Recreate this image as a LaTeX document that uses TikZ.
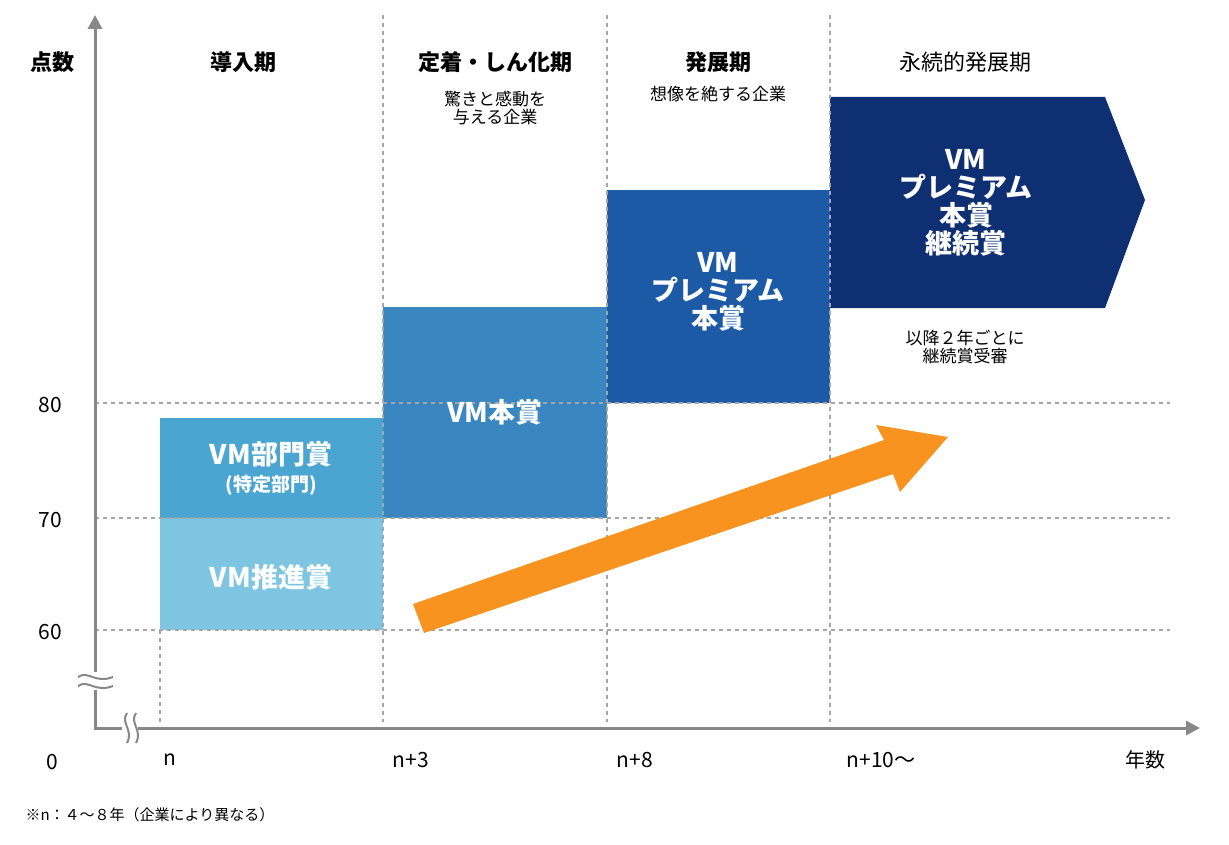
\documentclass[tikz,border=0pt]{standalone}
\usepackage{fontspec}
\setmainfont{Noto Sans CJK JP}
\newfontfamily\jpb{Noto Sans CJK JP Bold}
\usetikzlibrary{arrows.meta}
\definecolor{ax}{HTML}{888888}
\definecolor{c1}{HTML}{7EC5E2}
\definecolor{c2}{HTML}{4AA5D0}
\definecolor{c3}{HTML}{3A86C0}
\definecolor{c4}{HTML}{1C5AA6}
\definecolor{c5}{HTML}{0F2F73}
\definecolor{org}{HTML}{F7931E}
\begin{document}
\begin{tikzpicture}[x=1pt,y=-1pt,
 grid/.style={draw=black!35,line width=1.6pt,dash pattern=on 4pt off 4pt},
 head/.style={font=\fontsize{22}{26}\selectfont\bfseries},
 sub/.style={font=\fontsize{17}{20}\selectfont},
 lab/.style={font=\fontsize{21}{24}\selectfont},
 box/.style={text=white,font=\fontsize{27}{31}\selectfont\bfseries,align=center}]
\useasboundingbox (0,0) rectangle (1229,845);
% boxes
\fill[c1] (160,518) rectangle (383,630);
\fill[c2] (160,418) rectangle (383,518);
\fill[c3] (383,307) rectangle (607,518);
\fill[c4] (607,190) rectangle (830,403);
\fill[c5] (830,97) -- (1105,97) -- (1145,200) -- (1105,308) -- (830,308) -- cycle;
% grid
\foreach \y in {403,518,630} \draw[grid] (95,\y) -- (1170,\y);
\draw[grid] (160,630) -- (160,722);
\foreach \x in {383,607,830} \draw[grid] (\x,15) -- (\x,722);
% axes
\draw[ax,line width=3pt,-{Triangle[length=14pt,width=14pt]}] (95,730) -- (95,15);
\draw[ax,line width=3pt,-{Triangle[length=14pt,width=14pt]}] (95,728) -- (1200,728);
% breaks
\fill[white] (80,672) rectangle (110,690);
\draw[ax,line width=2pt] (78,677) .. controls (88,670) and (95,684) .. (113,677);
\draw[ax,line width=2pt] (78,686) .. controls (88,679) and (95,693) .. (113,686);
\fill[white] (122,715) rectangle (138,742);
\draw[ax,line width=2pt] (127,713) .. controls (120,723) and (134,730) .. (127,743);
\draw[ax,line width=2pt] (136,713) .. controls (129,723) and (143,730) .. (136,743);
% orange arrow
\fill[org] (413,604) -- (884,440) -- (876,425) -- (948,437) -- (900,492) -- (893,474) -- (424,633) -- cycle;
% box texts
\node[box] (t1) at (271,577) {VM推進賞};
\node[box,align=center] (t2) at (271,468) {VM部門賞\\[-4pt]{\fontsize{19}{22}\selectfont (特定部門)}};
\node[box] (t3) at (495,412) {VM本賞};
\node[box] (t4) at (718,292) {VM\\[-3pt]プレミアム\\[-3pt]本賞};
\node[box] (t5) at (966,203) {VM\\[-3pt]プレミアム\\[-3pt]本賞\\[-3pt]継続賞};
% headers
\node[head] (h0) at (52,62) {点数};
\node[head] (h1) at (243,62) {導入期};
\node[head] (h2) at (495,62) {定着・しん化期};
\node[sub,align=center] (s2) at (495,108) {驚きと感動を\\[-2pt]与える企業};
\node[head] (h3) at (718,62) {発展期};
\node[sub] (s3) at (718,94) {想像を絶する企業};
\node[head,font=\fontsize{22}{26}\selectfont] (h4) at (965,62) {永続的発展期};
\node[sub,align=center] (s4) at (965,347) {以降２年ごとに\\[-2pt]継続賞受審};
% axis labels
\node[lab] (y80) at (50,405) {80};
\node[lab] (y70) at (50,520) {70};
\node[lab] (y60) at (50,632) {60};
\node[lab] (y0) at (52,762) {0};
\node[lab] (xn) at (170,760) {n};
\node[lab] (x3) at (411,760) {n+3};
\node[lab] (x8) at (635,760) {n+8};
\node[lab] (x10) at (881,760) {n+10〜};
\node[lab,font=\fontsize{20}{24}\selectfont] (xl) at (1145,760) {年数};
\node[anchor=west,font=\fontsize{15}{18}\selectfont] (fn) at (22,815) {※n：４〜８年（企業により異なる）};
\end{tikzpicture}
\end{document}
